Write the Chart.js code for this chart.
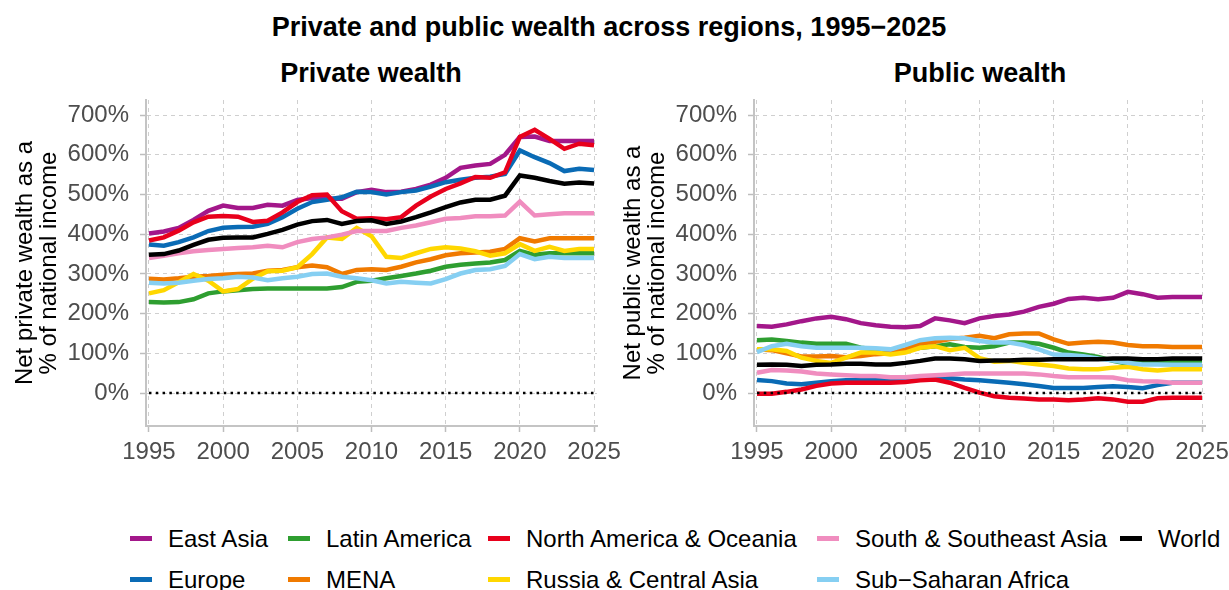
<!DOCTYPE html>
<html>
<head>
<meta charset="utf-8">
<script src="https://cdn.jsdelivr.net/npm/chart.js@4.4.0/dist/chart.umd.min.js"></script>
<style>
    body { margin: 0; width: 1229px; height: 590px; background: #fff; position: relative; overflow: hidden;
           font-family: "Liberation Sans", Arial, sans-serif; color: #000; }
    #titulo { position: absolute; top: 11px; left: 0; width: 1218px; text-align: center;
              font-weight: bold; font-size: 27px; line-height: 32px; }
    .subtitulo { position: absolute; top: 57px; width: 400px; text-align: center;
                 font-weight: bold; font-size: 27px; line-height: 32px; }
    .caixa { position: absolute; top: 0; width: 627px; height: 480px; }
    #legenda { position: absolute; left: 130px; top: 518px; display: grid;
               grid-template-columns: 158px 200px 329px 303px auto;
               grid-template-rows: 41px 41px; grid-auto-flow: column; }
    .item { display: flex; align-items: center; font-size: 24px; white-space: nowrap; }
    .amostra { width: 22px; height: 5px; margin-right: 16px; }
</style>
</head>
<body>
<div id="titulo">Private and public wealth across regions, 1995−2025</div>
<div class="subtitulo" style="left:171px">Private wealth</div>
<div class="subtitulo" style="left:780px">Public wealth</div>
<div class="caixa" style="left:0"><canvas id="grafico-privada" width="627" height="480"></canvas></div>
<div class="caixa" style="left:608px"><canvas id="grafico-publica" width="627" height="480"></canvas></div>
<div id="legenda"></div>

<script>
// Eixos
const anos = [1995, 1996, 1997, 1998, 1999, 2000, 2001, 2002, 2003, 2004, 2005, 2006, 2007, 2008, 2009, 2010,
              2011, 2012, 2013, 2014, 2015, 2016, 2017, 2018, 2019, 2020, 2021, 2022, 2023, 2024, 2025];
const ticksAnos = [1995, 2000, 2005, 2010, 2015, 2020, 2025];
const ticksPercent = [0, 100, 200, 300, 400, 500, 600, 700];

// Regioes e cores (mesma ordem)
const regioes = ['East Asia', 'Europe', 'Latin America', 'MENA', 'North America & Oceania',
                 'Russia & Central Asia', 'South & Southeast Asia', 'Sub−Saharan Africa', 'World'];
const cores = ['#A3178A', '#0A6BB5', '#2E9E30', '#F07A00', '#E8001C', '#FFD700', '#F08DBF', '#86CFF2', '#000000'];

// Riqueza privada, % da renda nacional
const privadaEastAsia = [402, 407, 416, 436, 459, 472, 466, 466, 474, 472, 486, 491, 489, 489, 506, 512,
                         506, 507, 514, 525, 542, 567, 573, 577, 600, 645, 646, 635, 635, 635, 635];
const privadaEurope = [374, 371, 380, 392, 408, 416, 418, 419, 426, 443, 464, 481, 487, 493, 507, 506,
                       500, 506, 510, 520, 531, 537, 542, 545, 552, 611, 594, 579, 559, 565, 562];
const privadaLatinAmerica = [229, 228, 229, 236, 251, 256, 259, 262, 263, 263, 263, 263, 263, 267, 280, 283,
                             289, 295, 301, 308, 318, 323, 326, 329, 335, 358, 348, 352, 352, 352, 352];
const privadaMena = [288, 286, 289, 293, 295, 298, 300, 301, 308, 310, 317, 321, 317, 300, 310, 312,
                     310, 318, 329, 337, 347, 352, 354, 356, 363, 390, 382, 390, 390, 390, 390];
const privadaNorthAmerica = [384, 392, 409, 430, 444, 446, 444, 431, 434, 455, 481, 498, 500, 458, 439, 440,
                             438, 443, 472, 495, 514, 528, 544, 542, 556, 645, 663, 640, 615, 628, 624];
const privadaRussia = [251, 259, 279, 300, 283, 256, 262, 288, 307, 308, 317, 350, 392, 388, 416, 395,
                       343, 340, 352, 363, 367, 364, 357, 346, 352, 375, 358, 368, 358, 363, 363];
const privadaSouthAsia = [340, 346, 352, 357, 360, 363, 365, 367, 371, 367, 380, 388, 392, 399, 408, 408,
                          408, 416, 422, 430, 439, 441, 445, 445, 447, 482, 447, 450, 453, 453, 453];
const privadaSsa = [278, 276, 278, 283, 287, 289, 293, 291, 284, 289, 293, 300, 301, 293, 289, 284,
                    276, 280, 278, 276, 287, 301, 310, 312, 320, 350, 337, 343, 340, 340, 340];
const privadaWorld = [348, 350, 359, 373, 386, 391, 392, 392, 401, 411, 424, 433, 436, 426, 433, 435,
                      426, 432, 443, 455, 468, 480, 487, 487, 497, 548, 542, 534, 527, 530, 528];

// Riqueza publica, % da renda nacional
const publicaEastAsia = [169, 167, 173, 181, 188, 192, 186, 176, 171, 167, 166, 169, 188, 183, 176, 188,
                         194, 198, 205, 217, 225, 237, 240, 236, 240, 255, 249, 240, 242, 242, 242];
const publicaEurope = [33, 30, 24, 22, 26, 30, 32, 32, 32, 32, 34, 36, 37, 37, 34, 32,
                       29, 26, 22, 18, 13, 13, 13, 15, 17, 15, 12, 20, 26, 26, 26];
const publicaLatinAmerica = [133, 135, 131, 127, 124, 124, 124, 114, 110, 108, 108, 114, 118, 123, 116, 114,
                             118, 127, 127, 124, 114, 102, 97, 91, 81, 74, 76, 81, 82, 81, 81];
const publicaMena = [110, 108, 100, 92, 92, 93, 90, 93, 98, 100, 110, 125, 129, 136, 139, 144,
                     138, 148, 150, 150, 135, 124, 127, 129, 127, 121, 118, 118, 116, 116, 116];
const publicaNorthAmerica = [-2, -2, 3, 9, 18, 24, 26, 26, 26, 26, 28, 32, 34, 26, 13, 1,
                             -8, -12, -14, -16, -16, -18, -16, -13, -16, -22, -22, -13, -12, -12, -12];
const publicaRussia = [110, 110, 106, 89, 81, 76, 89, 102, 102, 97, 102, 114, 118, 108, 114, 88,
                       79, 81, 76, 72, 68, 62, 60, 60, 64, 66, 60, 57, 60, 60, 60];
const publicaSouthAsia = [51, 58, 57, 54, 49, 47, 45, 43, 43, 40, 40, 43, 45, 47, 49, 49,
                          49, 49, 49, 47, 43, 40, 40, 40, 39, 32, 30, 29, 26, 26, 26];
const publicaSsa = [103, 118, 124, 118, 114, 114, 114, 114, 113, 110, 121, 133, 138, 139, 138, 131,
                    127, 127, 121, 110, 97, 96, 93, 87, 82, 76, 72, 72, 71, 71, 71];
const publicaWorld = [71, 72, 71, 68, 71, 72, 74, 74, 72, 72, 76, 81, 87, 87, 85, 81,
                      82, 82, 84, 84, 85, 85, 85, 85, 87, 87, 85, 85, 87, 87, 87];

const riquezaPrivada = [privadaEastAsia, privadaEurope, privadaLatinAmerica, privadaMena, privadaNorthAmerica,
                        privadaRussia, privadaSouthAsia, privadaSsa, privadaWorld];
const riquezaPublica = [publicaEastAsia, publicaEurope, publicaLatinAmerica, publicaMena, publicaNorthAmerica,
                        publicaRussia, publicaSouthAsia, publicaSsa, publicaWorld];

// Linha pontilhada no zero
const linhaZero = {
    id: 'linhaZero',
    afterDatasetsDraw(chart) {
        const ctx = chart.ctx;
        const y = chart.scales.y.getPixelForValue(0);
        ctx.save();
        ctx.strokeStyle = '#000';
        ctx.lineWidth = 2.5;
        ctx.setLineDash([2.5, 4.3]);
        ctx.beginPath();
        ctx.moveTo(chart.scales.x.getPixelForValue(anos[0]), y);
        ctx.lineTo(chart.scales.x.getPixelForValue(anos[anos.length - 1]), y);
        ctx.stroke();
        ctx.restore();
    }
};

function criarGrafico(id, tituloY, series) {
    var ctx = document.getElementById(id).getContext('2d');
    return new Chart(ctx, {
        type: 'line',
        data: {
            datasets: regioes.map((nome, i) => ({
                label: nome,
                data: anos.map((ano, j) => ({ x: ano, y: series[i][j] })),
                borderColor: cores[i],
                backgroundColor: cores[i],
                borderWidth: 4.5,
                pointRadius: 0,
                tension: 0,
                fill: false,
                order: regioes.length - i // World por cima
            }))
        },
        options: {
            responsive: false,
            animation: false,
            layout: { padding: { top: 100, right: 30, bottom: 0, left: 0 } },
            plugins: { legend: { display: false }, tooltip: { enabled: false } },
            scales: {
                x: {
                    type: 'linear',
                    min: 1994.8,
                    max: 2025.2,
                    afterBuildTicks: s => { s.ticks = ticksAnos.map(v => ({ value: v })); },
                    afterFit: s => { s.height = 54; },
                    grid: { color: '#cfcfcf', lineWidth: 1, tickLength: 6, tickColor: '#bdbdbd', tickWidth: 1.5, tickBorderDash: [] },
                    border: { display: true, color: '#c4c4c4', width: 2, dash: [4, 4] },
                    ticks: { color: '#4d4d4d', font: { family: 'Liberation Sans', size: 24 }, padding: 6,
                             maxRotation: 0, autoSkip: false, callback: v => String(v) }
                },
                y: {
                    min: -83,
                    max: 738,
                    afterBuildTicks: s => { s.ticks = ticksPercent.map(v => ({ value: v })); },
                    afterFit: s => { s.width = 146; },
                    grid: { color: '#cfcfcf', lineWidth: 1, tickLength: 6, tickColor: '#bdbdbd', tickWidth: 1.5, tickBorderDash: [] },
                    border: { display: true, color: '#c4c4c4', width: 2, dash: [4, 4] },
                    ticks: { color: '#4d4d4d', font: { family: 'Liberation Sans', size: 24 }, padding: 11,
                             autoSkip: false, callback: v => v + '%' },
                    title: { display: true, text: tituloY, color: '#000',
                             font: { family: 'Liberation Sans', size: 24, lineHeight: 1 },
                             padding: { top: 13, bottom: 0 } }
                }
            }
        },
        plugins: [linhaZero]
    });
}

criarGrafico('grafico-privada', ['Net private wealth as a', '% of national income'], riquezaPrivada);
criarGrafico('grafico-publica', ['Net public wealth as a', '% of national income'], riquezaPublica);

// Legenda em duas linhas, preenchida por coluna
var legenda = document.getElementById('legenda');
regioes.forEach((nome, i) => {
    var item = document.createElement('div');
    item.className = 'item';
    item.innerHTML = '<span class="amostra" style="background:' + cores[i] + '"></span>' + nome;
    legenda.appendChild(item);
});
</script>
</body>
</html>
